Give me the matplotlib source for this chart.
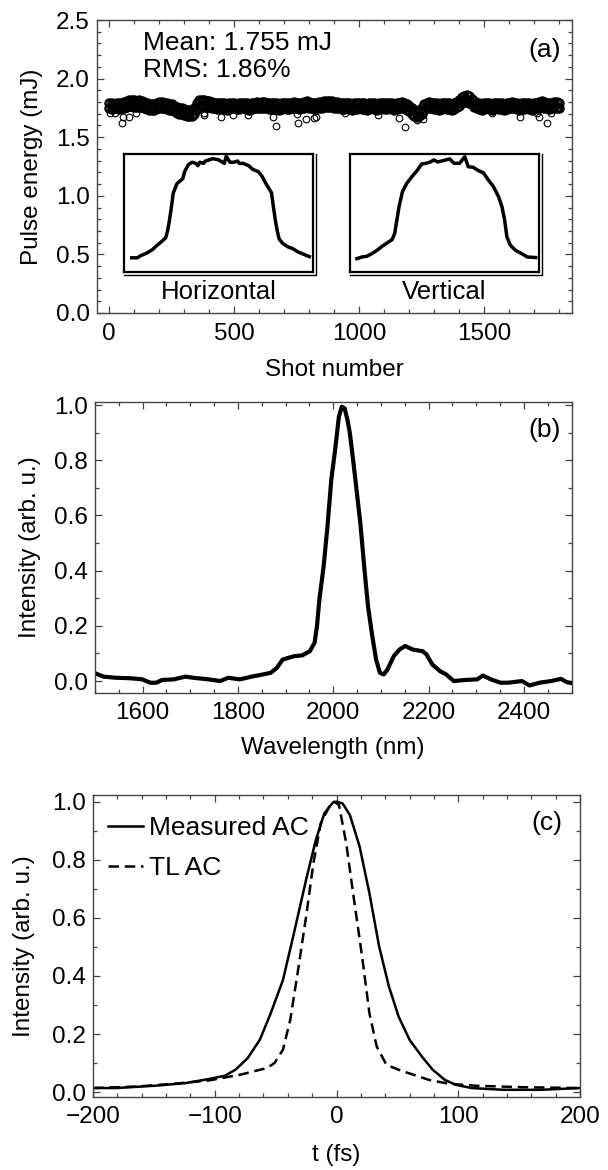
import numpy as np
import matplotlib
matplotlib.use("Agg")
import matplotlib.pyplot as plt
from matplotlib.ticker import MultipleLocator

plt.rcParams['font.family'] = ['Liberation Sans', 'DejaVu Sans']
plt.rcParams['font.size'] = 17.5

# ---- (a) pulse energy vs shot number: band read every 10 shots ----
shots = np.arange(0, 1810, 10)
energy_upper = [
    1.79, 1.795, 1.785, 1.79, 1.795, 1.79,
    1.80, 1.81, 1.815, 1.82, 1.815, 1.81, 1.815, 1.805, 1.80,
    1.79, 1.785, 1.78, 1.785, 1.79, 1.80, 1.80, 1.795, 1.79, 1.785,
    1.78, 1.77, 1.76, 1.75, 1.745, 1.74, 1.735, 1.73, 1.73, 1.745,
    1.79, 1.815, 1.82, 1.815, 1.81, 1.805,
    1.80, 1.795, 1.79, 1.79, 1.795, 1.79, 1.785, 1.79, 1.795, 1.79,
    1.785, 1.79, 1.79, 1.795, 1.79, 1.785, 1.79, 1.795, 1.80, 1.795,
    1.80, 1.80, 1.795, 1.79, 1.79, 1.795, 1.79, 1.785, 1.79, 1.795,
    1.79, 1.79, 1.795, 1.80, 1.795, 1.79, 1.795, 1.80, 1.805, 1.80,
    1.795, 1.79, 1.795, 1.80, 1.80, 1.805, 1.81, 1.81, 1.805, 1.80,
    1.80, 1.795, 1.79, 1.79, 1.795, 1.79, 1.785, 1.79, 1.79, 1.795,
    1.79, 1.79, 1.785, 1.79, 1.795, 1.79, 1.785, 1.79, 1.795, 1.79,
    1.79, 1.795, 1.79, 1.785, 1.79, 1.795, 1.80, 1.795, 1.785,
    1.77, 1.75, 1.735, 1.725, 1.73, 1.75, 1.78,
    1.795, 1.80, 1.795, 1.79, 1.79, 1.785, 1.79, 1.795, 1.79, 1.79, 1.785, 1.79,
    1.80, 1.82, 1.84, 1.855, 1.86, 1.85, 1.83, 1.805,
    1.795, 1.79, 1.785, 1.79, 1.795, 1.79, 1.785, 1.79, 1.795, 1.79,
    1.79, 1.785, 1.79, 1.795, 1.80, 1.795, 1.79, 1.785, 1.79, 1.79,
    1.795, 1.79, 1.785, 1.79, 1.795, 1.80, 1.805, 1.80, 1.795, 1.79,
    1.795, 1.80, 1.80, 1.795,
]
energy_lower = [
    1.745, 1.74, 1.75, 1.745, 1.74, 1.75,
    1.75, 1.76, 1.765, 1.765, 1.76, 1.76, 1.755, 1.755, 1.75,
    1.74, 1.735, 1.73, 1.735, 1.745, 1.75, 1.75, 1.745, 1.74, 1.735,
    1.73, 1.72, 1.71, 1.70, 1.695, 1.69, 1.685, 1.68, 1.68, 1.695,
    1.74, 1.765, 1.77, 1.765, 1.76, 1.755,
    1.75, 1.745, 1.74, 1.745, 1.745, 1.74, 1.735, 1.74, 1.745, 1.745,
    1.74, 1.74, 1.745, 1.745, 1.74, 1.735, 1.74, 1.745, 1.75, 1.745,
    1.75, 1.75, 1.745, 1.74, 1.74, 1.745, 1.74, 1.735, 1.74, 1.745,
    1.74, 1.74, 1.745, 1.75, 1.745, 1.74, 1.745, 1.75, 1.755, 1.75,
    1.745, 1.74, 1.745, 1.75, 1.75, 1.755, 1.76, 1.76, 1.755, 1.75,
    1.75, 1.745, 1.74, 1.74, 1.745, 1.74, 1.735, 1.74, 1.74, 1.745,
    1.74, 1.74, 1.735, 1.74, 1.745, 1.74, 1.735, 1.74, 1.745, 1.74,
    1.74, 1.745, 1.74, 1.735, 1.74, 1.745, 1.75, 1.745, 1.735,
    1.72, 1.70, 1.685, 1.675, 1.68, 1.70, 1.73,
    1.745, 1.75, 1.745, 1.74, 1.74, 1.735, 1.74, 1.745, 1.74, 1.74, 1.735, 1.74,
    1.755, 1.77, 1.79, 1.80, 1.805, 1.795, 1.78, 1.755,
    1.745, 1.74, 1.735, 1.74, 1.745, 1.74, 1.735, 1.74, 1.745, 1.74,
    1.74, 1.735, 1.74, 1.745, 1.75, 1.745, 1.74, 1.735, 1.74, 1.74,
    1.745, 1.74, 1.735, 1.74, 1.745, 1.75, 1.755, 1.75, 1.745, 1.74,
    1.745, 1.75, 1.75, 1.745,
]
outlier_shots = [3, 25, 57, 52, 79, 107, 381, 378, 448, 494, 556, 657, 668, 750, 755,
                 789, 820, 828, 944, 1076, 1161, 1184, 1231, 1254, 1533, 1642, 1711,
                 1719, 1750, 1766]
outlier_energy = [1.704, 1.704, 1.675, 1.624, 1.670, 1.704, 1.704, 1.689, 1.675, 1.689,
                  1.689, 1.670, 1.598, 1.698, 1.618, 1.652, 1.661, 1.670, 1.704, 1.689,
                  1.661, 1.590, 1.647, 1.652, 1.704, 1.675, 1.704, 1.675, 1.624, 1.704]

# beam profiles in the insets (position %, intensity %)
h_pos = [4, 7, 9, 12, 15, 17, 20, 22, 23, 24, 25, 26, 28, 31, 32, 34, 36, 38, 39, 40,
         42, 43, 45, 47, 50, 52, 53, 54, 56, 58, 60, 61, 63, 66, 68, 71, 73, 75, 78, 79,
         80, 81, 82, 84, 87, 89, 92, 95, 98]
h_int = [12, 12, 14, 16, 19, 22, 26, 29, 35, 44, 55, 67, 75, 79, 85, 91, 93, 92, 90, 93,
         92, 94, 95, 96, 95, 93, 92, 98, 93, 93, 94, 92, 92, 90, 87, 85, 81, 75, 67, 55,
         44, 35, 28, 24, 21, 20, 17, 15, 13]
v_pos = [3.6, 6.3, 8.9, 11.6, 14.3, 17, 19.6, 22.3, 23.6, 24.6, 25.9, 27.7, 30, 33, 35.7,
         37.9, 40.2, 42.5, 44.3, 46.4, 49.1, 52.7, 55, 58, 60.7, 62.5, 65.2, 67.9, 70.5,
         73.2, 75.9, 78.6, 80.4, 81.8, 83, 84.8, 87.5, 90.7, 93.8, 98.2]
v_int = [11.3, 12.7, 13.3, 15.6, 18.4, 21.8, 24.6, 27.5, 32.6, 42.5, 55.2, 68, 75.1, 81.3,
         86.4, 91.5, 92.1, 93.2, 94.9, 93.2, 94.3, 95.8, 92.1, 92.1, 97.7, 89.2, 88.7,
         85.8, 84.1, 77.9, 72.2, 63.7, 55.2, 43.9, 29.7, 22.7, 18.4, 15.6, 12.7, 12.2]

# ---- (b) spectrum ----
wavelength = [1498, 1518, 1543, 1576, 1600, 1616, 1629, 1641, 1665, 1690, 1706, 1739,
              1763, 1780, 1804, 1829, 1853, 1869, 1882, 1894, 1918, 1935, 1951, 1961,
              1966, 1971, 1980, 1988, 1996, 2004, 2012, 2018, 2024, 2030, 2035, 2041,
              2049, 2057, 2065, 2073, 2082, 2090, 2098, 2106, 2114, 2127, 2139, 2151,
              2167, 2188, 2196, 2208, 2224, 2237, 2253, 2278, 2302, 2314, 2331, 2351,
              2367, 2396, 2412, 2433, 2457, 2478, 2490, 2502]
spectrum = [0.030, 0.016, 0.012, 0.010, 0.006, -0.006, -0.006, 0.004, 0.006, 0.016,
            0.012, 0.006, 0.000, 0.012, 0.006, 0.016, 0.024, 0.030, 0.048, 0.078,
            0.090, 0.093, 0.108, 0.139, 0.199, 0.295, 0.416, 0.560, 0.729, 0.837,
            0.958, 0.994, 0.988, 0.946, 0.898, 0.813, 0.693, 0.572, 0.416, 0.271,
            0.163, 0.078, 0.030, 0.024, 0.042, 0.090, 0.114, 0.127, 0.114, 0.108,
            0.096, 0.060, 0.036, 0.024, 0.000, 0.004, 0.006, 0.020, 0.006, -0.006,
            -0.006, 0.000, -0.016, -0.006, 0.000, 0.008, -0.004, -0.008]

# ---- (c) autocorrelations ----
t_meas = [-200, -181, -149, -124, -105, -92, -83, -73, -63, -54, -44, -35, -25, -17, -10,
          -3, 0, 5, 11, 19, 27, 35, 43, 51, 60, 70, 79, 89, 98, 111, 137, 168, 200]
ac_meas = [0.014, 0.014, 0.022, 0.031, 0.045, 0.056, 0.077, 0.117, 0.180, 0.272, 0.386,
           0.547, 0.731, 0.868, 0.960, 0.997, 1.0, 0.994, 0.954, 0.845, 0.685, 0.501,
           0.364, 0.260, 0.180, 0.123, 0.077, 0.042, 0.025, 0.014, 0.008, 0.008, 0.014]
t_tl = [-200, -165, -133, -105, -79, -57, -51, -44, -38, -32, -25, -19, -13, -6, -2, 2,
        8, 14, 21, 27, 33, 41, 51, 63, 76, 92, 114, 152, 200]
ac_tl = [0.014, 0.019, 0.029, 0.040, 0.060, 0.083, 0.100, 0.146, 0.249, 0.409, 0.604,
         0.788, 0.925, 0.983, 1.0, 0.989, 0.856, 0.673, 0.467, 0.272, 0.157, 0.094,
         0.077, 0.060, 0.042, 0.029, 0.022, 0.017, 0.014]

frame_color = '#444444'


def style_axes(ax, xmaj, xmin, ymaj, ymin):
    for s in ax.spines.values():
        s.set_color(frame_color)
        s.set_linewidth(1.0)
    ax.xaxis.set_major_locator(MultipleLocator(xmaj))
    ax.xaxis.set_minor_locator(MultipleLocator(xmin))
    ax.yaxis.set_major_locator(MultipleLocator(ymaj))
    ax.yaxis.set_minor_locator(MultipleLocator(ymin))
    ax.tick_params(which='both', direction='in', top=True, right=True,
                   color=frame_color, width=0.9, labelsize=17.5)
    ax.tick_params(which='major', length=5)
    ax.tick_params(which='minor', length=3)
    ax.tick_params(axis='x', pad=7)
    ax.tick_params(axis='y', pad=5)


fig = plt.figure(figsize=(6.08, 11.7), dpi=100)
ax_a = fig.add_axes([0.159, 0.7325, 0.781, 0.2504])
ax_b = fig.add_axes([0.156, 0.408, 0.784, 0.2484])
ax_c = fig.add_axes([0.153, 0.0626, 0.801, 0.2579])

# panel (a)
mk = dict(marker='o', ls='none', mfc='none', mec='black', ms=5.8, mew=1.7)
ax_a.plot(shots, energy_upper, **mk)
ax_a.plot(shots, energy_lower, **mk)
ax_a.plot(outlier_shots, outlier_energy, **dict(mk, mew=0.8, ms=4.8))
ax_a.set_xlim(-50, 1850)
ax_a.set_ylim(0, 2.5)
style_axes(ax_a, 500, 100, 0.5, 0.1)
ax_a.set_xlabel('Shot number', va='center')
ax_a.xaxis.set_label_coords(0.5, -0.195)
ax_a.set_ylabel('Pulse energy (mJ)', va='center')
ax_a.yaxis.set_label_coords(-0.137, 0.5)
ax_a.text(0.097, 0.921, 'Mean: 1.755 mJ', transform=ax_a.transAxes, va='center',
          fontsize=19)
ax_a.text(0.097, 0.829, 'RMS: 1.86%', transform=ax_a.transAxes, va='center',
          fontsize=19)
ax_a.text(0.977, 0.898, '(a)', transform=ax_a.transAxes, va='center', ha='right',
          fontsize=19)

for x0, x1, pos, inten, name in [(60, 816, h_pos, h_int, 'Horizontal'),
                                 (964, 1720, v_pos, v_int, 'Vertical')]:
    ins = ax_a.inset_axes([x0, 0.35, x1 - x0, 1.357 - 0.35], transform=ax_a.transData)
    ins.plot(pos, inten, color='black', lw=2.5, solid_joinstyle='round')
    ins.set_xlim(0, 100)
    ins.set_ylim(0, 100)
    ins.set_xticks([])
    ins.set_yticks([])
    for s in ins.spines.values():
        s.set_linewidth(1.6)
        s.set_color('black')
    # second line on right and bottom edge of the frame
    ins.plot([0, 1.016, 1.016], [-0.022, -0.022, 1.0], transform=ins.transAxes,
             color='black', lw=1.0, clip_on=False)
    ax_a.text((x0 + x1) / 2, 0.18, name, ha='center', va='center', fontsize=18.5)

# panel (b)
ax_b.plot(wavelength, spectrum, color='black', lw=3.0, solid_joinstyle='round')
ax_b.set_xlim(1500, 2500)
ax_b.set_ylim(-0.042, 1.011)
style_axes(ax_b, 200, 50, 0.2, 0.1)
ax_b.set_xlabel('Wavelength (nm)', va='center')
ax_b.xaxis.set_label_coords(0.5, -0.19)
ax_b.set_ylabel('Intensity (arb. u.)', va='center')
ax_b.yaxis.set_label_coords(-0.137, 0.5)
ax_b.text(0.977, 0.904, '(b)', transform=ax_b.transAxes, va='center', ha='right',
          fontsize=19)

# panel (c)
ax_c.plot(t_meas, ac_meas, color='black', lw=1.8, label='Measured AC')
ax_c.plot(t_tl, ac_tl, color='black', lw=1.8, ls=(0, (4.2, 2.3)), label='TL AC')
ax_c.set_xlim(-200, 200)
ax_c.set_ylim(-0.016, 1.023)
style_axes(ax_c, 100, 20, 0.2, 0.1)
ax_c.set_xlabel('t (fs)', va='center')
ax_c.xaxis.set_label_coords(0.5, -0.193)
ax_c.set_ylabel('Intensity (arb. u.)', va='center')
ax_c.yaxis.set_label_coords(-0.142, 0.5)
ax_c.text(0.963, 0.907, '(c)', transform=ax_c.transAxes, va='center', ha='right',
          fontsize=19)
ax_c.legend(loc='upper left', bbox_to_anchor=(-0.012, 1.0), frameon=False,
            handlelength=1.3, handletextpad=0.25, labelspacing=0.6, fontsize=19,
            borderpad=0.3)

fig.savefig('out.png', dpi=100)
